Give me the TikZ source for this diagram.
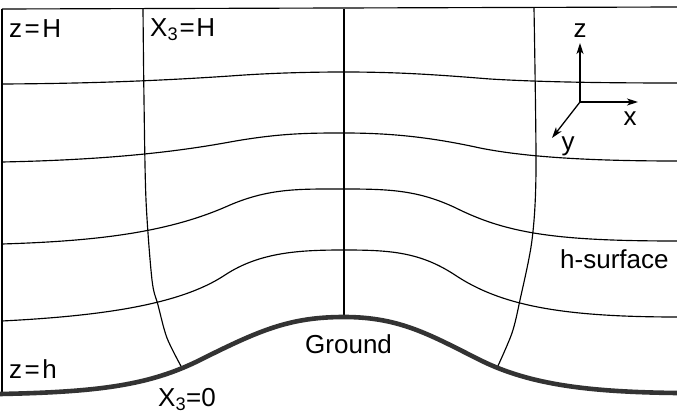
\documentclass[tikz,border=0pt]{standalone}
\usepackage{fontspec}
\setmainfont{Liberation Sans}
\usetikzlibrary{arrows.meta}
\begin{document}
\begin{tikzpicture}[x=1pt,y=-1pt,
  thin line/.style={line width=1.15pt,black},
  ground line/.style={line width=4.6pt,draw=black!80},
  lbl/.style={inner sep=0pt,anchor=base west,font=\fontsize{26}{30}\selectfont},
  axis/.style={line width=1.3pt,-{Stealth[length=11pt,width=7pt,inset=3pt]}}]
\useasboundingbox (0,0) rectangle (677,414);
% top line and left border
\draw[thin line] (2,9) -- (677,7);
\draw[thin line] (2,9) -- (2,394);
% h-surfaces
\draw[thin line] (2,84) .. controls (100,83.5) and (170,80) .. (230,76) .. controls (270,73) and (310,72) .. (344,72) .. controls (400,72) and (440,75) .. (490,79) .. controls (540,82) and (600,83) .. (677,83);
\draw[thin line] (2,162) .. controls (100,160) and (170,153) .. (230,142) .. controls (280,133) and (310,133) .. (344,133) .. controls (390,133) and (430,137) .. (480,148) .. controls (530,158) and (600,161) .. (677,161);
\draw[thin line] (2,244) .. controls (100,241) and (170,232) .. (230,205) .. controls (270,188) and (300,189) .. (344,189) .. controls (390,189) and (420,190) .. (460,210) .. controls (510,234) and (560,241) .. (677,241);
\draw[thin line] (2,321) .. controls (100,316) and (180,305) .. (225,275) .. controls (260,252) and (300,250) .. (344,250) .. controls (390,250) and (420,252) .. (455,275) .. controls (500,305) and (560,317) .. (677,317);
% vertical X lines
\draw[thin line] plot[smooth,tension=0.5] coordinates {(143,9) (144,100) (146,200) (152,280) (158,305) (167,338) (182,368)};
\draw[thin line] (344,9) -- (344,317);
\draw[thin line] plot[smooth,tension=0.5] coordinates {(534,8) (536,170) (532,240) (520,300) (512,333) (497,368)};
% ground
\draw[ground line] (0,394) .. controls (100,392) and (150,385) .. (200,360) .. controls (260,330) and (290,317) .. (344,317) .. controls (400,317) and (430,335) .. (480,360) .. controls (530,385) and (590,392) .. (677,393);
% labels
\node[lbl] (zH) at (9,37.7) {z\hspace{2.5pt}=\hspace{2.5pt}H};
\node[lbl] (XH) at (150,36.7) {X\textsubscript{3}\hspace{1.5pt}=\hspace{1.5pt}H};
\node[lbl] (zh) at (9,378) {z\hspace{2.5pt}=\hspace{2.5pt}h};
\node[lbl] (X0) at (158,406.7) {X\textsubscript{3}=0};
\node[lbl] (gr) at (305,353) {Ground};
\node[lbl] (hs) at (560,268) {h-surface};
% axes
\coordinate (o) at (580,102);
\coordinate (ez) at (580,43);
\coordinate (ex) at (638,102);
\coordinate (ey) at (552,138);
\draw[axis] (o) -- (ez);
\draw[axis] (o) -- (ex);
\draw[axis] (o) -- (ey);
\node[lbl,anchor=base] (lz) at (580,38) {z};
\node[lbl,anchor=base] (lx) at (630,126) {x};
\node[lbl,anchor=base] (ly) at (568,151) {y};
\end{tikzpicture}
\end{document}
